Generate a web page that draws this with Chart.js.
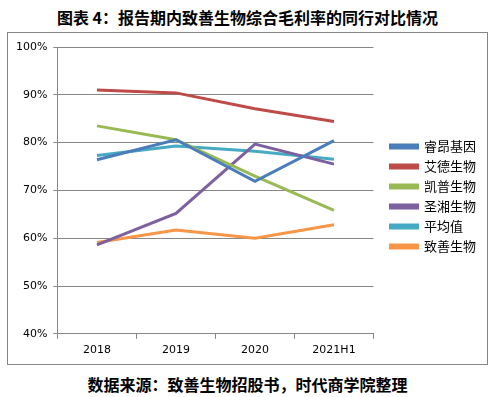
<!DOCTYPE html>
<html>
<head>
<meta charset="utf-8">
<script src="https://cdn.jsdelivr.net/npm/chart.js@4"></script>
<style>
    body { margin: 0; background: #fff; width: 495px; height: 397px; position: relative; font-family: "Noto Sans CJK SC", sans-serif; }
    .title { position: absolute; left: 0; top: 5px; width: 495px; text-align: center; font-size: 16px; font-weight: bold; color: #000; }
    .box { position: absolute; left: 7px; top: 32px; width: 479px; height: 331px; border: 1px solid #868686; }
    .caption { position: absolute; left: 0; top: 372px; width: 495px; text-align: center; font-size: 16px; font-weight: bold; color: #000; }
</style>
</head>
<body>
<div class="title">图表 4：报告期内致善生物综合毛利率的同行对比情况</div>
<div class="box"><canvas id="chart" width="479" height="331"></canvas></div>
<div class="caption">数据来源：致善生物招股书，时代商学院整理</div>
<script>
// categories and values (gross margin, %)
const years = ['2018', '2019', '2020', '2021H1'];
const seriesNames = ['睿昂基因', '艾德生物', '凯普生物', '圣湘生物', '平均值', '致善生物'];
const ruiang = [76.4, 80.6, 71.9, 80.4];
const aide = [91.0, 90.4, 87.1, 84.4];
const kaipu = [83.5, 80.6, 73.0, 65.8];
const shengxiang = [58.6, 65.2, 79.7, 75.5];
const average = [77.3, 79.3, 78.2, 76.5];
const zhishan = [59.1, 61.7, 60.0, 62.8];
const yTicks = [40, 50, 60, 70, 80, 90, 100];

const colors = ['#4A7EBB', '#BE4B48', '#98B954', '#7D60A0', '#46AAC5', '#F79646'];
const allData = [ruiang, aide, kaipu, shengxiang, average, zhishan];

const datasets = seriesNames.map((name, i) => ({
    label: name,
    data: allData[i],
    borderColor: colors[i],
    backgroundColor: colors[i],
    borderWidth: 3,
    pointRadius: 0,
    tension: 0
}));

// push the legend a bit away from the plot area, and up a little
const legendGap = {
    id: 'legendGap',
    afterLayout(chart) {
        chart.legend.left += 10;
        chart.legend.right += 10;
        chart.legend.top -= 8;
        chart.legend.bottom -= 8;
    }
};

new Chart(document.getElementById('chart'), {
    type: 'line',
    data: { labels: years, datasets: datasets },
    plugins: [legendGap],
    options: {
        responsive: false,
        animation: false,
        layout: { padding: { top: 14, right: 11, bottom: 2, left: 2 } },
        plugins: {
            legend: {
                position: 'right',
                align: 'center',
                labels: {
                    boxWidth: 27,
                    boxHeight: 3,
                    padding: 7,
                    color: '#000',
                    font: { family: 'Noto Sans CJK SC', size: 13 }
                }
            },
            tooltip: { enabled: false }
        },
        scales: {
            x: {
                offset: true,
                grid: { offset: true, drawOnChartArea: false, drawTicks: true, tickLength: 5, color: '#868686' },
                border: { color: '#868686' },
                ticks: { color: '#000', font: { family: 'DejaVu Sans', size: 11 }, padding: 5 }
            },
            y: {
                min: 40,
                max: 100,
                afterBuildTicks: axis => { axis.ticks = yTicks.map(v => ({ value: v })); },
                grid: { color: '#868686', tickLength: 4 },
                border: { color: '#868686' },
                ticks: {
                    color: '#000',
                    font: { family: 'DejaVu Sans', size: 11 },
                    padding: 6,
                    callback: v => v + '%'
                }
            }
        }
    }
});
</script>
</body>
</html>
